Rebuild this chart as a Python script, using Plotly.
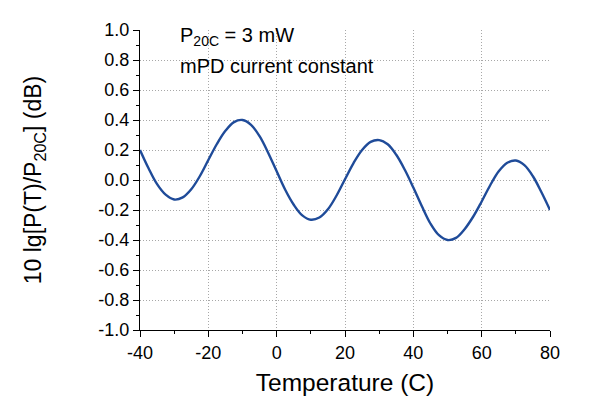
import plotly.graph_objects as go

# Data
temperature = [-40, -37.5, -35, -32.5, -30, -27.5, -25, -22.5, -20, -17.5, -15, -12.5,
               -10, -7.5, -5, -2.5, 0, 2.5, 5, 7.5, 10, 12.5, 15, 17.5,
               20, 22.5, 25, 27.5, 30, 32.5, 35, 37.5, 40, 42.5, 45, 47.5,
               50, 52.5, 55, 57.5, 60, 62.5, 65, 67.5, 70, 72.5, 75, 77.5, 80]
power_db = [0.200, 0.078, -0.028, -0.098, -0.130, -0.116, -0.062, 0.025, 0.133, 0.240, 0.328, 0.386,
            0.400, 0.368, 0.292, 0.182, 0.058, -0.065, -0.165, -0.236, -0.265, -0.250, -0.195, -0.105,
            0.005, 0.113, 0.200, 0.254, 0.266, 0.238, 0.168, 0.068, -0.050, -0.175, -0.290, -0.368,
            -0.400, -0.386, -0.328, -0.245, -0.143, -0.035, 0.058, 0.115, 0.130, 0.099, 0.025, -0.082, -0.200]

x_ticks = [-40, -20, 0, 20, 40, 60, 80]
x_tick_labels = ["-40", "-20", "0", "20", "40", "60", "80"]
y_ticks = [-1.0, -0.8, -0.6, -0.4, -0.2, 0.0, 0.2, 0.4, 0.6, 0.8, 1.0]
y_tick_labels = ["-1.0", "-0.8", "-0.6", "-0.4", "-0.2", "0.0", "0.2", "0.4", "0.6", "0.8", "1.0"]
x_grid = [-20, 0, 20, 40, 60]
y_grid = [-0.8, -0.6, -0.4, -0.2, 0.0, 0.2, 0.4, 0.6, 0.8]

FONT = "Liberation Sans, Arial, sans-serif"
GRID = "#a8a8a8"

fig = go.Figure()
# invisible trace to activate the grid axes
fig.add_trace(go.Scatter(x=[None], y=[None], xaxis="x2", yaxis="y2",
                         showlegend=False, hoverinfo="skip"))
fig.add_trace(go.Scatter(
    x=temperature, y=power_db, mode="lines",
    line=dict(color="#1f4b99", width=2.4, shape="spline", smoothing=1.0),
    showlegend=False, hoverinfo="skip"))

# page body has an 8px margin, so the figure is made 8px smaller and shifted
fig.update_layout(
    width=592, height=411,
    margin=dict(l=132, r=50, t=22, b=89),
    paper_bgcolor="white", plot_bgcolor="white",
    font=dict(family=FONT, size=18, color="black"),
    xaxis=dict(
        range=[-40, 80], tickvals=x_ticks, ticktext=x_tick_labels,
        showgrid=False, zeroline=False, automargin=False,
        showline=True, linecolor="black", linewidth=1,
        ticks="outside", ticklen=6, tickcolor="black", tickwidth=1,
        minor=dict(ticks="outside", ticklen=3, tickcolor="black", dtick=10, tick0=-40, showgrid=False),
        tickfont=dict(size=18),
        title=dict(text="Temperature (C)", font=dict(size=24.5), standoff=12),
    ),
    yaxis=dict(
        range=[-1.0, 1.0], tickvals=y_ticks, ticktext=y_tick_labels,
        showgrid=False, zeroline=False, automargin=False,
        showline=True, linecolor="black", linewidth=1,
        ticks="outside", ticklen=6, tickcolor="black", tickwidth=1,
        minor=dict(ticks="outside", ticklen=3, tickcolor="black", dtick=0.1, tick0=-1.0, showgrid=False),
        tickfont=dict(size=18),
        title=dict(text="10 lg[P(T)/P<sub>20C</sub>] (dB)", font=dict(size=23), standoff=50),
    ),
    xaxis2=dict(
        overlaying="x", range=[-40, 80], tickvals=x_grid, showticklabels=False,
        showgrid=True, gridcolor=GRID, griddash="1px,2px", gridwidth=1,
        zeroline=False, showline=False, ticks="", automargin=False,
    ),
    yaxis2=dict(
        overlaying="y", range=[-1.0, 1.0], tickvals=y_grid, showticklabels=False,
        showgrid=True, gridcolor=GRID, griddash="1px,2px", gridwidth=1,
        zeroline=False, showline=False, ticks="", automargin=False,
    ),
)

fig.add_annotation(xref="paper", yref="paper", x=0.093, y=0.98, xanchor="left", yanchor="middle",
                   text="P<sub>20C</sub> = 3 mW", showarrow=False, font=dict(size=20))
fig.add_annotation(xref="paper", yref="paper", x=0.093, y=0.88, xanchor="left", yanchor="middle",
                   text="mPD current constant", showarrow=False, font=dict(size=20))

fig.write_html("out.html")
